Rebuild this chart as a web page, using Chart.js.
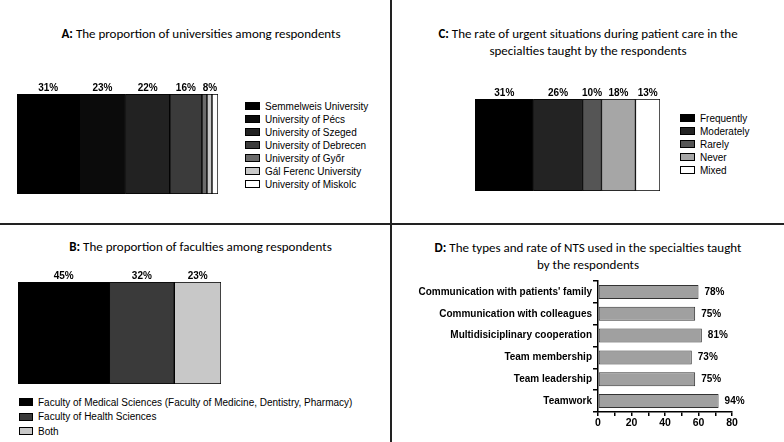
<!DOCTYPE html>
<html>
<head>
<meta charset="utf-8">
<script src="https://cdn.jsdelivr.net/npm/chart.js@4"></script>
<style>
  html, body { margin: 0; padding: 0; background: #fff; }
  #page { position: relative; width: 784px; height: 442px; overflow: hidden; background: #fff; }
  .vline { position: absolute; left: 390px; top: 0; width: 2px; height: 442px; background: #222; }
  .hline { position: absolute; left: 0; top: 223px; width: 784px; height: 2px; background: #222; }
  .title { position: absolute; text-align: center; font-family: Carlito, Calibri, Lato, sans-serif; font-size: 13px; line-height: 16.5px; color: #000; }
  .title b { font-weight: 700; }
  canvas { position: absolute; }
  ul.legend { position: absolute; margin: 0; padding: 0; list-style: none; font-family: "Liberation Sans", Arial, sans-serif; font-size: 10px; color: #000; white-space: nowrap; }
  ul.legend li { height: 13px; line-height: 13px; }
  ul.legend .box { display: inline-block; box-sizing: border-box; width: 15px; height: 8px; border: 1px solid #000; margin-right: 5px; vertical-align: -0.5px; }
</style>
</head>
<body>
<div id="page">
  <div class="vline"></div>
  <div class="hline"></div>

  <div class="title" style="left:11px;top:26px;width:380px;"><b>A:</b> The proportion of universities among respondents</div>
  <canvas id="chart-uni" width="215" height="130" style="left:10px;top:70px;"></canvas>
  <ul class="legend" id="legend-uni" style="left:245px;top:99.5px;"></ul>

  <div class="title" style="left:392px;top:26px;width:392px;"><b>C:</b> The rate of urgent situations during patient care in the<br>specialties taught by the respondents</div>
  <canvas id="chart-urgent" width="205" height="122" style="left:465px;top:75px;"></canvas>
  <ul class="legend" id="legend-urgent" style="left:680px;top:111.5px;"></ul>

  <div class="title" style="left:10px;top:239px;width:381px;"><b>B:</b> The proportion of faculties among respondents</div>
  <canvas id="chart-fac" width="220" height="130" style="left:10px;top:260px;"></canvas>
  <ul class="legend" id="legend-fac" style="left:19px;top:395.5px;"></ul>

  <div class="title" style="left:392px;top:240px;width:392px;"><b>D:</b> The types and rate of NTS used in the specialties taught<br>by the respondents</div>
  <canvas id="chart-nts" width="392" height="162" style="left:392px;top:270px;"></canvas>
</div>

<script>
// ---- data ----
const uniNames = ["Semmelweis University", "University of Pécs", "University of Szeged", "University of Debrecen", "University of Győr", "Gál Ferenc University", "University of Miskolc"];
const uniPct = [31, 23, 22, 16, 2.5, 2.5, 3];
const uniLabels = ["31%", "23%", "22%", "16%", "8%"];
const uniLabelSpans = [1, 1, 1, 1, 3];

const facNames = ["Faculty of Medical Sciences (Faculty of Medicine, Dentistry, Pharmacy)", "Faculty of Health Sciences", "Both"];
const facPct = [45, 32, 23];
const facLabels = ["45%", "32%", "23%"];

const urgNames = ["Frequently", "Moderately", "Rarely", "Never", "Mixed"];
const urgPct = [31, 26, 10, 18, 13];
const urgLabels = ["31%", "26%", "10%", "18%", "13%"];

const ntsSkills = ["Communication with patients' family", "Communication with colleagues", "Multidisiciplinary cooperation", "Team membership", "Team leadership", "Teamwork"];
const ntsCount = [60, 58, 62, 56, 58, 72];
const ntsPct = ["78%", "75%", "81%", "73%", "75%", "94%"];
const ntsTicks = [0, 20, 40, 60, 80];

// ---- styles ----
const uniColors = ["#000000", "#0b0b0b", "#222222", "#3b3b3b", "#6a6a6a", "#c8c8c8", "#ffffff"];
const facColors = ["#000000", "#3a3a3a", "#c8c8c8"];
const urgColors = ["#000000", "#232323", "#555555", "#a6a6a6", "#ffffff"];
const labelFont = 'bold 10px "Liberation Sans", Arial, sans-serif';

// percent labels above stacked segments
const segmentLabels = {
  id: "segmentLabels",
  afterDatasetsDraw(chart, args, opts) {
    const ctx = chart.ctx;
    ctx.save();
    ctx.font = labelFont;
    ctx.fillStyle = "#000";
    ctx.textAlign = "center";
    ctx.textBaseline = "alphabetic";
    let i = 0;
    opts.texts.forEach((txt, k) => {
      const span = (opts.spans && opts.spans[k]) || 1;
      const first = chart.getDatasetMeta(i).data[0];
      const last = chart.getDatasetMeta(i + span - 1).data[0];
      const x = (first.base + last.x) / 2;
      const top = first.y - first.height / 2;
      ctx.fillText(txt, x, top - 3);
      i += span;
    });
    ctx.restore();
  }
};

// labels at the end of horizontal bars
const endLabels = {
  id: "endLabels",
  afterDatasetsDraw(chart, args, opts) {
    const ctx = chart.ctx;
    ctx.save();
    ctx.font = labelFont;
    ctx.fillStyle = "#000";
    ctx.textAlign = "left";
    ctx.textBaseline = "middle";
    chart.getDatasetMeta(0).data.forEach((bar, i) => {
      ctx.fillText(opts.texts[i], bar.x + 6, bar.y);
    });
    ctx.restore();
  }
};

function buildLegend(chart, elId, boxWidth) {
  const ul = document.getElementById(elId);
  const items = chart.options.plugins.legend.labels.generateLabels(chart);
  items.forEach(item => {
    const li = document.createElement("li");
    const box = document.createElement("span");
    box.className = "box";
    box.style.background = item.fillStyle;
    if (boxWidth) box.style.width = boxWidth + "px";
    li.appendChild(box);
    li.appendChild(document.createTextNode(item.text));
    ul.appendChild(li);
  });
}

function stackedBar(canvasId, names, values, colors, texts, spans, padding) {
  const total = values.reduce((s, v) => s + v, 0);
  return new Chart(document.getElementById(canvasId), {
    type: "bar",
    data: {
      labels: [""],
      datasets: names.map((name, i) => ({
        label: name,
        data: [values[i]],
        backgroundColor: colors[i],
        borderColor: "#000",
        borderWidth: 1,
        borderSkipped: false,
        barPercentage: 1,
        categoryPercentage: 1
      }))
    },
    options: {
      indexAxis: "y",
      responsive: false,
      animation: false,
      layout: { padding },
      scales: {
        x: { stacked: true, display: false, min: 0, max: total },
        y: { stacked: true, display: false }
      },
      plugins: {
        legend: { display: false },
        tooltip: { enabled: false },
        segmentLabels: { texts, spans }
      }
    },
    plugins: [segmentLabels]
  });
}

// ============================================================
// A / B / C: single stacked bars
// ============================================================
const uniChart = stackedBar("chart-uni", uniNames, uniPct, uniColors, uniLabels, uniLabelSpans,
  { left: 7, right: 7, top: 24, bottom: 6 });
buildLegend(uniChart, "legend-uni");

const urgChart = stackedBar("chart-urgent", urgNames, urgPct, urgColors, urgLabels, null,
  { left: 10, right: 10, top: 24, bottom: 6 });
buildLegend(urgChart, "legend-urgent");

const facChart = stackedBar("chart-fac", facNames, facPct, facColors, facLabels, null,
  { left: 8, right: 9, top: 22, bottom: 6 });
buildLegend(facChart, "legend-fac", 14);
document.querySelectorAll("#legend-fac li").forEach(li => { li.style.height = li.style.lineHeight = "14.5px"; });

// ============================================================
// D: horizontal bars with axes
// ============================================================
const axisFont = { family: '"Liberation Sans", Arial, sans-serif', size: 10, weight: "bold" };
new Chart(document.getElementById("chart-nts"), {
  type: "bar",
  data: {
    labels: ntsSkills,
    datasets: [{
      data: ntsCount,
      backgroundColor: "#a0a0a0",
      borderColor: "#333",
      borderWidth: 1,
      borderSkipped: false,
      barPercentage: 0.64,
      categoryPercentage: 1
    }]
  },
  options: {
    indexAxis: "y",
    responsive: false,
    animation: false,
    layout: { padding: { left: 26, right: 52, top: 11, bottom: 0 } },
    scales: {
      x: {
        min: ntsTicks[0],
        max: ntsTicks[ntsTicks.length - 1],
        afterFit: s => { s.height = 20; },
        ticks: {
          stepSize: 10,
          autoSkip: false,
          maxRotation: 0,
          padding: 1,
          color: "#000",
          font: { ...axisFont, size: 10.5 },
          callback: v => (ntsTicks.includes(v) ? v : "")
        },
        grid: { display: true, drawOnChartArea: false, drawTicks: true, tickLength: 4, color: "#000", lineWidth: 1.5 },
        border: { color: "#000", width: 1.5 }
      },
      y: {
        afterFit: s => { s.width = 180; },
        ticks: { padding: 1, color: "#000", font: axisFont, autoSkip: false },
        grid: { display: true, drawOnChartArea: false, drawTicks: true, tickLength: 5, color: "#000", lineWidth: 1.5 },
        border: { color: "#000", width: 1.5 }
      }
    },
    plugins: {
      legend: { display: false },
      tooltip: { enabled: false },
      endLabels: { texts: ntsPct }
    }
  },
  plugins: [endLabels]
});
</script>
</body>
</html>
